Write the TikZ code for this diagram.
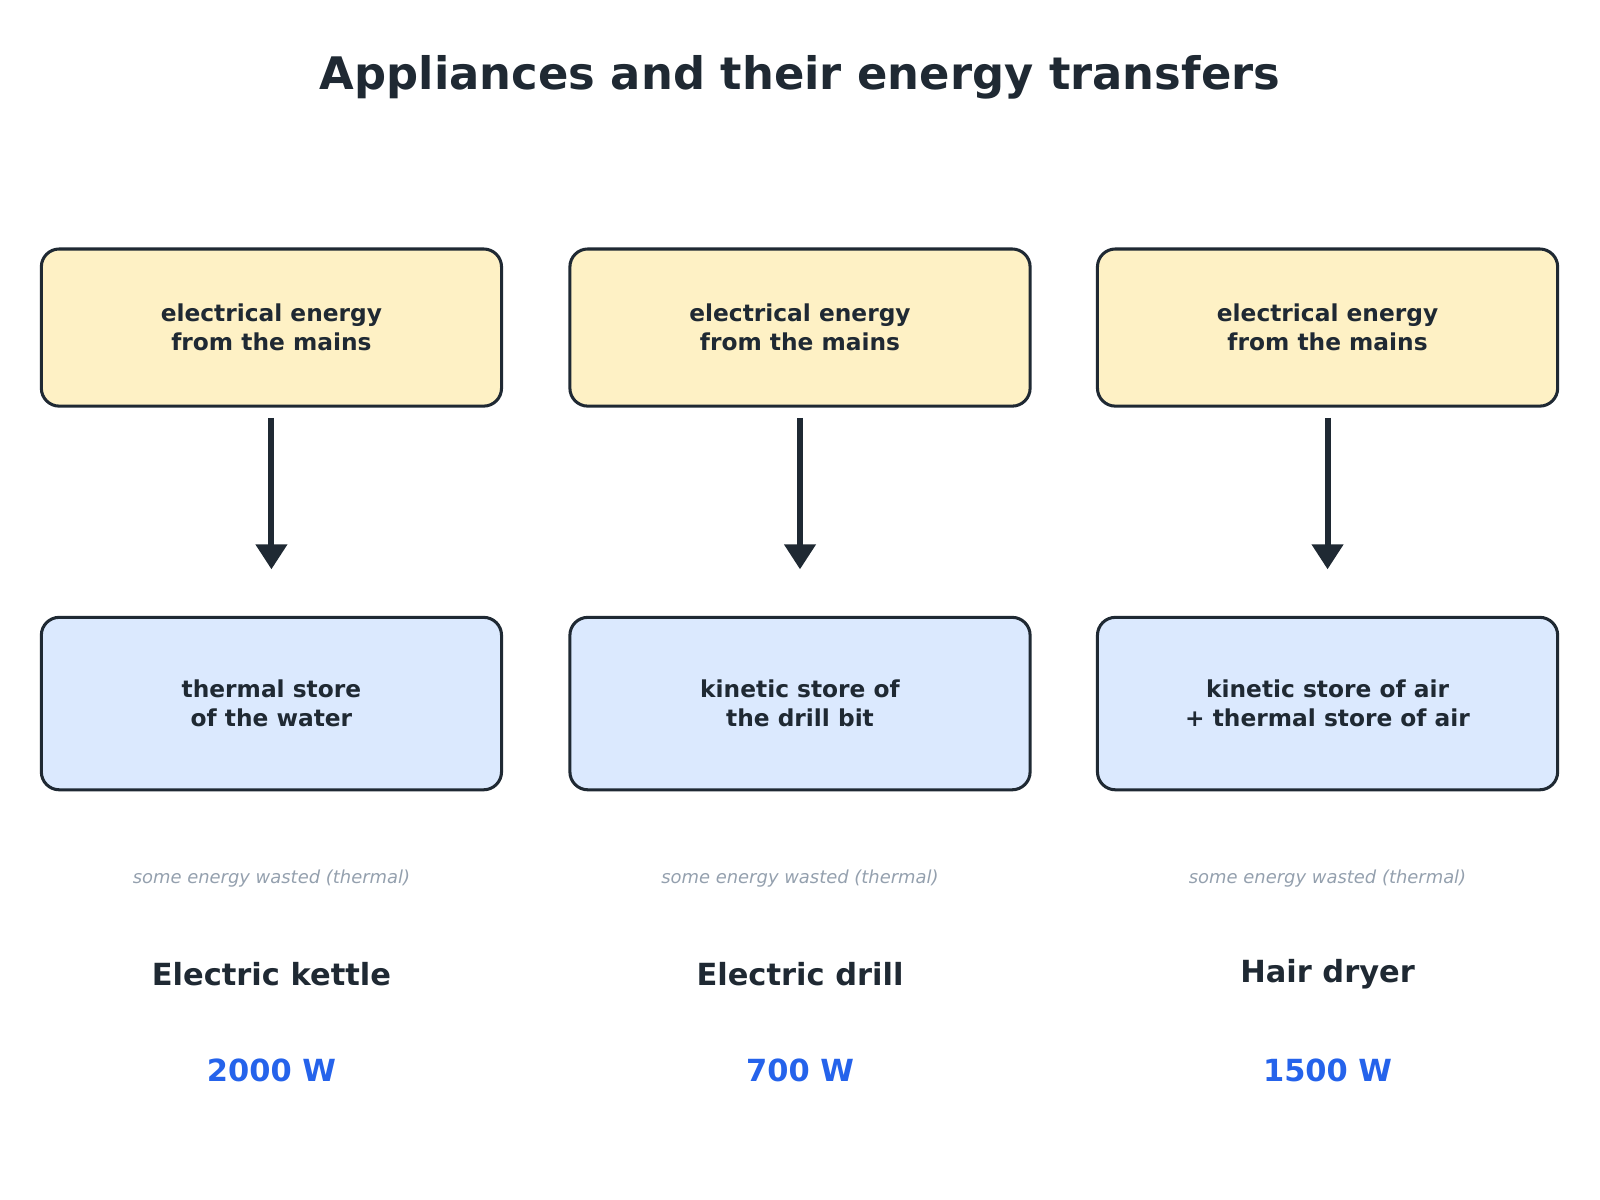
\documentclass[tikz,border=0pt]{standalone}
\usepackage{fontspec}
\setmainfont{DejaVu Sans}
\usetikzlibrary{arrows.meta}
\definecolor{ink}{HTML}{1F2933}
\definecolor{yel}{HTML}{FEF1C5}
\definecolor{blu}{HTML}{DBE9FE}
\definecolor{gry}{HTML}{94A0AE}
\definecolor{wat}{HTML}{2563EB}
\newlength{\pxu}\setlength{\pxu}{0.02cm}
\tikzset{
  box/.style={draw=ink,line width=1.7pt,rounded corners=10pt,minimum width=451\pxu,align=center,font=\fontsize{13}{16}\selectfont\bfseries,text=ink},
  srcbox/.style={box,fill=yel,minimum height=154\pxu},
  dstbox/.style={box,fill=blu,minimum height=169\pxu},
  flowarrow/.style={draw=ink,line width=3.4pt,-{Triangle[length=14pt,width=17pt]}},
  wastetext/.style={font=\fontsize{10}{12}\selectfont\itshape,text=gry},
  applabel/.style={font=\fontsize{17}{20}\selectfont\bfseries,text=ink},
  wattlabel/.style={font=\fontsize{17}{20}\selectfont\bfseries,text=wat},
  titletext/.style={font=\fontsize{25}{30}\selectfont\bfseries,text=ink}
}
\begin{document}
\begin{tikzpicture}[x=0.02cm,y=-0.02cm]
\useasboundingbox (0,0) rectangle (1568,1176);
\node[titletext] (title) at (784,76) {Appliances and their energy transfers};
\foreach \i/\x/\d/\n/\w in {a/266/{thermal store\\of the water}/Electric kettle/2000 W,
  b/784/{kinetic store of\\the drill bit}/Electric drill/700 W,
  c/1301/{kinetic store of air\\+ thermal store of air}/Hair dryer/1500 W}{
  \node[srcbox] (s\i) at (\x,321) {electrical energy\\from the mains};
  \node[dstbox] (d\i) at (\x,689.5) {\d};
  \coordinate (e\i) at (\x,558);
  \draw[flowarrow] ([yshift=-10\pxu]s\i.south) -- (e\i);
  \node[wastetext] (w\i) at (\x,861) {some energy wasted (thermal)};
  \node[applabel] (n\i) at (\x,955) {\n};
  \node[wattlabel] (v\i) at (\x,1049) {\w};
}
\end{tikzpicture}
\end{document}
